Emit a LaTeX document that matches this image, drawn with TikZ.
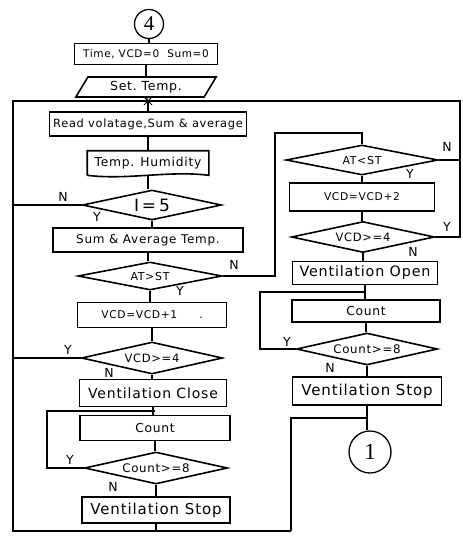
\documentclass[tikz,border=0pt]{standalone}
\usepackage{fontspec}
\setmainfont{DejaVu Sans}[LetterSpace=6]
\newfontfamily\numf{Liberation Serif}
\usetikzlibrary{shapes.geometric}
\newcommand\fs[1]{\fontsize{#1}{#1}\selectfont}
\tikzset{
  box/.style={draw, rectangle, inner sep=0pt},
  dia/.style={draw, diamond, aspect=4.7, inner sep=0pt},
  lab/.style={inner sep=0pt, font=\fs{12.5}},
}
\begin{document}
\begin{tikzpicture}[x=1pt,y=-1pt,line width=1.6pt]
\useasboundingbox (0,0) rectangle (463,536);
% left / main column
\node[draw, circle, minimum size=29, inner sep=0pt, line width=1.3pt, font=\numf\fs{21}] (c4) at (149,24) {4};
\node[box, minimum width=143, minimum height=21, font=\fs{10.5}] (time) at (146,54) {Time, VCD=0\hspace{8pt}Sum=0};
\node[draw, trapezium, trapezium left angle=58, trapezium right angle=122, trapezium stretches=true,
      minimum width=141, minimum height=20, inner sep=0pt, font=\fs{12.5}] (set) at (146,87) {Set.\ Temp.};
\coordinate (j) at (148,101);
\node[box, minimum width=197, minimum height=24, font=\fs{11.4}] (read) at (148,124) {Read volatage,Sum \& average};
\node[minimum width=120, minimum height=23, inner sep=0pt, font=\fs{12.3}] (th) at (148,163) {Temp. Humidity};
\node[dia, minimum width=139, minimum height=30, font=\fs{17}] (i5) at (152,205) {I\,=\,5};
\node[box, minimum width=190, minimum height=24, font=\fs{12}] (sum) at (148,240) {Sum \& Average Temp.};
\node[dia, minimum width=144, minimum height=28, font=\fs{11}] (atg) at (150,276) {AT>ST};
\node[box, minimum width=149, minimum height=25, font=\fs{10.7}] (v1) at (152,315) {VCD=VCD+1\hspace{22pt}.};
\node[dia, minimum width=141, minimum height=32, font=\fs{11.5}] (vdl) at (152,358) {VCD>=4};
\node[box, minimum width=147, minimum height=27, font=\fs{14}] (vcl) at (153,393) {Ventilation Close};
\node[box, minimum width=150, minimum height=25, font=\fs{12.3}] (cntl) at (155,428) {Count};
\node[dia, minimum width=143, minimum height=32, font=\fs{11.8}] (c8l) at (156,468) {Count>=8};
\node[box, minimum width=148, minimum height=26, font=\fs{15}] (vsl) at (156,510) {Ventilation Stop};
% right column
\node[dia, minimum width=152, minimum height=30, font=\fs{11}] (atl) at (362,160) {AT<ST};
\node[box, minimum width=145, minimum height=28, font=\fs{10.7}] (v2) at (362,197) {VCD=VCD+2};
\node[dia, minimum width=143, minimum height=31, font=\fs{11.5}] (vdr) at (363,237) {VCD>=4};
\node[box, minimum width=145, minimum height=23, font=\fs{14.3}] (vo) at (365,273) {Ventilation Open};
\node[box, minimum width=148, minimum height=22, font=\fs{12.3}] (cntr) at (366,311) {Count};
\node[dia, minimum width=141, minimum height=32, font=\fs{11.8}] (c8r) at (367,349) {Count>=8};
\node[box, minimum width=149, minimum height=28, font=\fs{15}] (vsr) at (367,391) {Ventilation Stop};
\node[draw, circle, minimum size=42, inner sep=0pt, line width=1.3pt, font=\numf\fs{23}] (c1) at (370,452) {1};
% Temp. Humidity outline
\draw (th.south west) -- (th.north west) -- (th.north east) -- (th.south east)
  .. controls +(-40,-5) and +(40,5) .. (th.south west);
% loop frame coordinates
\coordinate (TL) at (13,101);
\coordinate (TR) at (460,101);
\coordinate (BL) at (13,531);
\coordinate (BR) at (291,531);
\coordinate (RJ) at (291,418);
\coordinate (an) at (275,133);
\coordinate (lp) at (47,411);
\coordinate (rp) at (260,292);
% main chain
\draw (c4.south) -- (c4.south |- time.north);
\draw (time.south) -- (time.south |- set.north);
\draw (set.south) -- (j) -- (j |- read.north);
\draw (read.south) -- (read.south |- th.north);
\draw (th.south) -- (th.south |- i5.north);
\draw (i5.south) -- (i5.south |- sum.north);
\draw (sum.south) -- (sum.south |- atg.north);
\draw (atg.south) -- (atg.south |- v1.north);
\draw (v1.south) -- (v1.south |- vdl.north);
\draw (vdl.south) -- (vdl.south |- vcl.north);
\draw (vcl.south) -- (vcl.south |- cntl.north);
\draw (cntl.south) -- (cntl.south |- c8l.north);
\draw (c8l.south) -- (c8l.south |- vsl.north);
\draw (vsl.south) -- (vsl.south |- BL);
% right chain
\draw (atl.south) -- (atl.south |- v2.north);
\draw (v2.south) -- (v2.south |- vdr.north);
\draw (vdr.south) -- (vdr.south |- vo.north);
\draw (vo.south) -- (vo.south |- cntr.north);
\draw (cntr.south) -- (cntr.south |- c8r.north);
\draw (c8r.south) -- (c8r.south |- vsr.north);
\draw (vsr.south) -- (vsr.south |- c1.north);
% asterisk at junction
\draw[line width=0.9pt] ([xshift=-6pt]j) -- ([xshift=6pt]j)
  ([xshift=-4pt,yshift=-4pt]j) -- ([xshift=4pt,yshift=4pt]j)
  ([xshift=-4pt,yshift=4pt]j) -- ([xshift=4pt,yshift=-4pt]j);
% loops
\draw (BR) -- (BL) -- (TL) -- (TR) -- (TR |- vdr.east) -- (vdr.east);
\draw (atl.east) -- (atl.east -| TR);
\draw (i5.west) -- (i5.west -| TL);
\draw (vdl.west) -- (vdl.west -| TL);
\draw (BR) -- (RJ) -- (RJ -| vsr.south);
\draw (c8l.west) -| (lp) -- (lp -| cntl.north);
\draw (atg.east) -| (an) -| (atl.north);
\draw (c8r.west) -| (rp) -- (rp -| cntr.north);
% labels
\node[lab] (l1) at (63,197) {N};
\node[lab] (l2) at (97,217) {Y};
\node[lab] (l3) at (234,265) {N};
\node[lab] (l4) at (180,291) {Y};
\node[lab] (l5) at (68,350) {Y};
\node[lab] (l6) at (109,373) {N};
\node[lab] (l7) at (70,460) {Y};
\node[lab] (l8) at (113,487) {N};
\node[lab] (l9) at (447,147) {N};
\node[lab] (l10) at (410,174) {Y};
\node[lab] (l11) at (447,227) {Y};
\node[lab] (l12) at (413,252) {N};
\node[lab] (l13) at (287,342) {Y};
\node[lab] (l14) at (330,368) {N};
\end{tikzpicture}
\end{document}
